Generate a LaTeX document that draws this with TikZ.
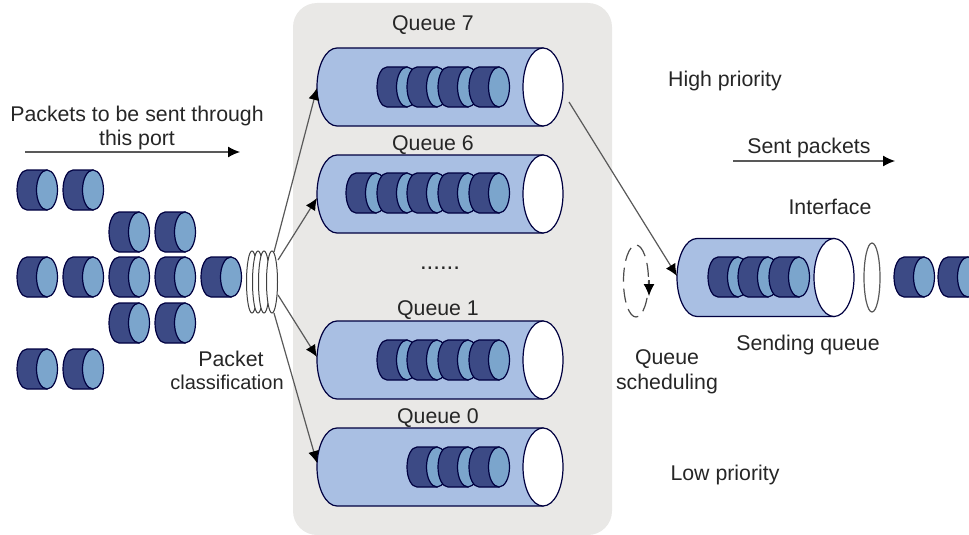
\documentclass[tikz,border=0pt]{standalone}
\usepackage{fontspec}
\setmainfont{Liberation Sans}
\usetikzlibrary{arrows.meta}
\tikzset{
  lab/.style={inner sep=0pt,yshift=-1.5pt,font=\fontsize{21.3}{25}\selectfont,text=black!85},
  link/.style={draw=black!65,line width=1.2pt,-{Latex[length=12pt,width=11pt,black]}},
  outl/.style={draw=black!75!blue,line width=1.2pt},
}
\definecolor{pdark}{HTML}{3C4A85}
\definecolor{plight}{HTML}{7BA5CC}
\definecolor{tube}{HTML}{A9BFE3}
\definecolor{panel}{HTML}{E9E8E6}
% packet: front ellipse centre
\newcommand{\pkt}[2]{%
  \path[outl,fill=pdark] (#1,#2-20) -- (#1-20,#2-20) arc[start angle=90,end angle=270,x radius=10,y radius=-20] -- (#1,#2+20) -- cycle;
  \path[outl,fill=plight] (#1,#2) ellipse[x radius=10.5,y radius=20];
}
% tube: left, right-ellipse centre x, centre y
\newcommand{\tube}[3]{%
  \path[outl,fill=tube] (#2,#3-39) -- (#1+20,#3-39) arc[start angle=90,end angle=270,x radius=20,y radius=-39] -- (#2,#3+39) -- cycle;
}
\newcommand{\tubeend}[2]{\path[outl,fill=white] (#1,#2) ellipse[x radius=20,y radius=39];}
\begin{document}
\begin{tikzpicture}[x=1pt,y=-1pt]
\useasboundingbox (0,0) rectangle (969,535);
\fill[panel,rounded corners=24pt] (293,3) rectangle (612,535);
% loose packets
\foreach \x/\y in {47/190,93/190,139/232,185/232,47/277,93/277,139/277,185/277,231/277,139/323,185/323,47/369,93/369}{\pkt{\x}{\y}}
% classifier
\foreach \x in {252,258,264,272}{\draw[line width=1pt,draw=black!75,fill=white] (\x,282) ellipse[x radius=5.5,y radius=31];}
\coordinate (c7) at (274,252);
\coordinate (c6) at (278,260);
\coordinate (c1) at (278,295);
\coordinate (c0) at (274,313);
% queues
\tube{317}{543}{87}
\foreach \x in {407,437,468,499}{\pkt{\x}{87}}
\tubeend{543}{87}
\tube{317}{543}{194}
\foreach \x in {376,407,437,468,499}{\pkt{\x}{193}}
\tubeend{543}{194}
\tube{317}{543}{360}
\foreach \x in {407,437,468,499}{\pkt{\x}{360}}
\tubeend{543}{360}
\tube{317}{543}{467}
\foreach \x in {437,468,499}{\pkt{\x}{467}}
\tubeend{543}{467}
\coordinate (q7) at (317,88);
\coordinate (q6) at (317,198);
\coordinate (q1) at (317,357);
\coordinate (q0) at (317,463);
\draw[link] (c7) -- (q7);
\draw[link] (c6) -- (q6);
\draw[link] (c1) -- (q1);
\draw[link] (c0) -- (q0);
% sending queue
\tube{677}{834}{277.5}
\foreach \x in {738,768,799}{\pkt{\x}{277}}
\tubeend{834}{277.5}
\coordinate (qout) at (569,102);
\coordinate (sq) at (677,276);
\draw[link] (qout) -- (sq);
% scheduling
\draw[draw=black!70,line width=1.2pt,dash pattern=on 14pt off 7pt,dash phase=4pt] (636,281) ellipse[x radius=12.5,y radius=36];
\coordinate (sa) at (649,280);
\coordinate (sb) at (649,296);
\draw[-{Latex[length=12pt,width=11pt,black]},black!70,line width=1.2pt] (sa) -- (sb);
% interface
\draw[draw=black!65,line width=1.2pt] (872,277.5) ellipse[x radius=8,y radius=34.5];
\begin{scope}
\clip (880,230) rectangle (969,320);
\pkt{924}{277}
\pkt{968}{277}
\end{scope}
% top arrows
\coordinate (pa) at (25,152);
\coordinate (pb) at (240,152);
\coordinate (sc) at (733,161);
\coordinate (sd) at (895,161);
\draw[link] (pa) -- (pb);
\draw[link] (sc) -- (sd);
% text
\node[lab] (t1) at (137,114) {Packets to be sent through};
\node[lab] (t2) at (137,138) {this port};
\node[lab] (tq7) at (433,24) {Queue 7};
\node[lab] (tq6) at (433,144) {Queue 6};
\node[lab,font=\fontsize{24}{26}\selectfont] (tdots) at (440,267) {......};
\node[lab] (tq1) at (438,309) {Queue 1};
\node[lab] (tq0) at (438,417) {Queue 0};
\node[lab] (thi) at (725,79) {High priority};
\node[lab] (tlo) at (725,473) {Low priority};
\node[lab] (tsp) at (809,146) {Sent packets};
\node[lab] (tif) at (830,205) {Interface};
\node[lab] (tsq) at (808,343) {Sending queue};
\node[lab] (tqs1) at (667,358) {Queue};
\node[lab] (tqs2) at (667,382) {scheduling};
\node[lab] (tpc1) at (231,357) {Packet};
\node[lab,font=\fontsize{20}{24}\selectfont] (tpc2) at (227,381) {classification};
\end{tikzpicture}
\end{document}
